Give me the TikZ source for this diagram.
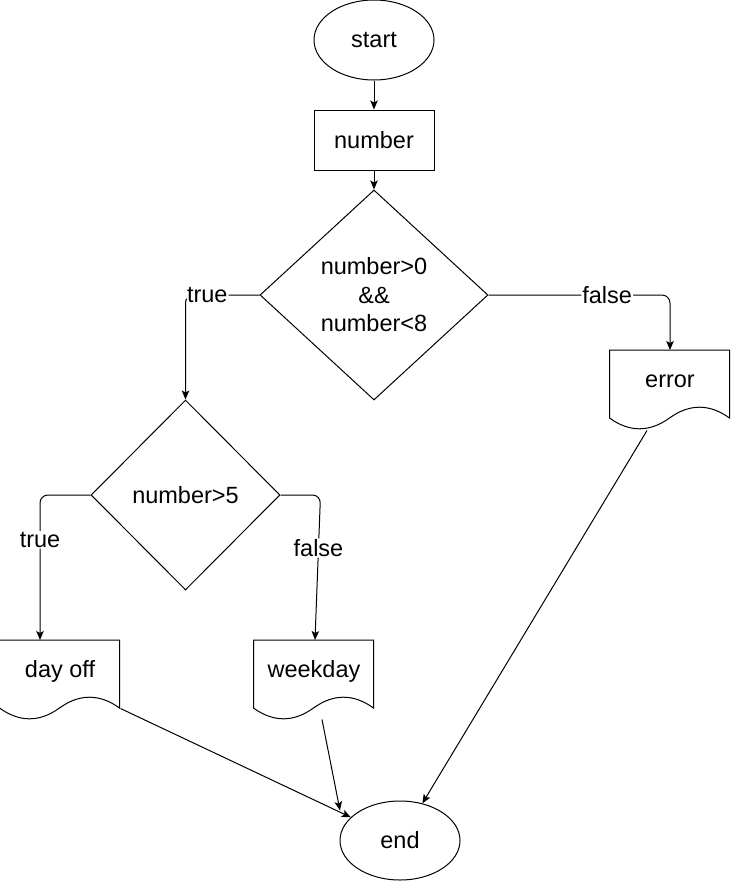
\documentclass[tikz,border=0pt]{standalone}
\usepackage{fontspec}
\setmainfont{Liberation Sans}
\usetikzlibrary{shapes.geometric,arrows.meta,calc}
\begin{document}
\begin{tikzpicture}[x=1pt,y=-1pt,line width=1pt,
  every node/.style={font=\fontsize{23.5}{28.5}\selectfont},
  term/.style={ellipse,draw,minimum width=120pt,minimum height=80pt,inner sep=0pt},
  proc/.style={rectangle,draw,minimum width=120pt,minimum height=60pt,inner sep=0pt},
  decision/.style={diamond,draw,inner sep=0pt,align=center},
  docbox/.style={rectangle,minimum width=120pt,minimum height=80pt,inner sep=0pt,
    text height=17pt,text depth=23pt},
  docshape/.pic={\draw (0,0) -- (120,0) -- (120,68)
     .. controls (100,53.6) and (80,53.6) .. (60,68)
     .. controls (40,82.4) and (20,82.4) .. (0,68) -- cycle;},
  arr/.style={-{Stealth[length=9pt,width=7.5pt,inset=2pt]}},
  elabel/.style={fill=white,inner sep=1pt},
  roundbend/.style={rounded corners=8pt}
]
\useasboundingbox (0,0) rectangle (731,881);

\node[term] (start) at (374,40) {start};
\node[proc] (num) at (374,140) {number};
\node[decision,minimum width=228pt,minimum height=210pt] (d1) at (374,295)
  {number>0\\\&\&\\number<8};
\node[decision,minimum width=189pt,minimum height=190pt] (d2) at (185.5,495) {number>5};

\node[docbox] (err) at (670,390.5) {error};
\pic at (err.north west) {docshape};
\node[docbox] (doff) at (60,680.5) {day off};
\pic at (doff.north west) {docshape};
\node[docbox] (wkd) at (314,680.5) {weekday};
\pic at (wkd.north west) {docshape};

\node[term,minimum height=79pt] (end) at (400,840.5) {end};

\draw[arr] (start) -- (num);
\draw[arr] (num) -- (d1);
\draw[arr,roundbend] (d1.west) -| node[elabel,pos=0.353] {true} (d2.north);
\draw[arr,roundbend] (d1.east) -| node[elabel,pos=0.327] {false} (err.north);
\draw[arr,roundbend] (d2.west) -| node[elabel,pos=0.655] {true} ($(doff.north)+(-20,0)$);
\draw[arr,roundbend] (d2.east) -- ++(40,0) -- node[elabel,pos=0.366] {false} ($(wkd.north)+(1,0)$);

\draw[arr] ($(doff.east)+(0,28)$) -- (end);
\draw[arr] ($(wkd.center)+(8,39)$) -- ($(end.center)+(-60,-30)$);
\draw[arr] ($(err.center)+(-23,40)$) -- (end);
\end{tikzpicture}
\end{document}
